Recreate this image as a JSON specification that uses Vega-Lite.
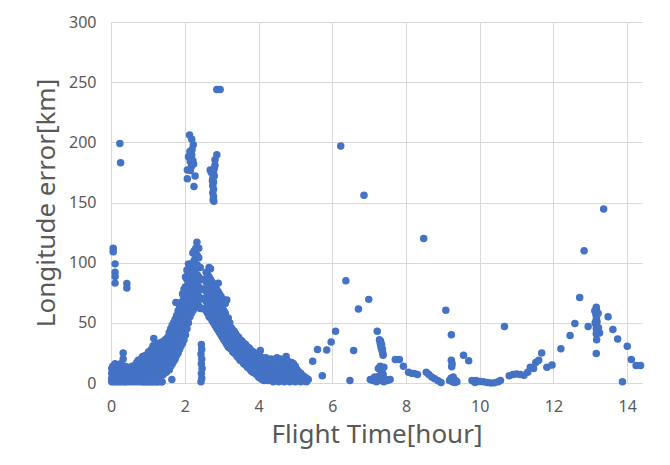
{
"$schema":"https://vega.github.io/schema/vega-lite/v6.json",
"width":531,"height":361,
"autosize":{"type":"none"},
"padding":{"left":111,"top":22,"right":28,"bottom":82},
"background":"white",
"config":{"view":{"stroke":null},"font":"Noto Sans"},
"data":{"values":[
{"t":0.02,"e":1},{"t":0.02,"e":4},{"t":0.02,"e":8},{"t":0.02,"e":12},
{"t":0.05,"e":2},{"t":0.05,"e":6},{"t":0.05,"e":10},{"t":0.05,"e":14},
{"t":0.08,"e":1},{"t":0.08,"e":5},{"t":0.08,"e":9},{"t":0.08,"e":13},
{"t":0.11,"e":3},{"t":0.11,"e":7},{"t":0.11,"e":11},{"t":0.11,"e":16},
{"t":0.14,"e":1},{"t":0.14,"e":5},{"t":0.14,"e":9},
{"t":0.17,"e":2},{"t":0.17,"e":6},{"t":0.17,"e":12},
{"t":0.2,"e":1},{"t":0.2,"e":4},{"t":0.2,"e":8},{"t":0.2,"e":14},
{"t":0.23,"e":3},{"t":0.23,"e":7},{"t":0.23,"e":11},
{"t":0.26,"e":1},{"t":0.26,"e":5},{"t":0.26,"e":9},{"t":0.26,"e":16},
{"t":0.29,"e":2},{"t":0.29,"e":6},{"t":0.29,"e":10},{"t":0.29,"e":13},
{"t":0.32,"e":1},{"t":0.32,"e":4},{"t":0.32,"e":8},{"t":0.33,"e":20},{"t":0.33,"e":25},
{"t":0.35,"e":2},{"t":0.35,"e":6},{"t":0.35,"e":11},
{"t":0.38,"e":1},{"t":0.38,"e":5},{"t":0.38,"e":9},{"t":0.38,"e":14},
{"t":0.42,"e":1},{"t":0.42,"e":4},{"t":0.42,"e":8},{"t":0.42,"e":12},
{"t":0.46,"e":2},{"t":0.46,"e":6},{"t":0.46,"e":10},
{"t":0.5,"e":1},{"t":0.5,"e":4},{"t":0.5,"e":9},{"t":0.5,"e":13},
{"t":0.54,"e":2},{"t":0.54,"e":7},{"t":0.54,"e":11},
{"t":0.58,"e":1},{"t":0.58,"e":5},{"t":0.58,"e":9},{"t":0.58,"e":14},
{"t":0.62,"e":3},{"t":0.62,"e":7},{"t":0.62,"e":12},
{"t":0.66,"e":1},{"t":0.66,"e":5},{"t":0.66,"e":10},{"t":0.66,"e":15},
{"t":0.7,"e":2},{"t":0.7,"e":6},{"t":0.7,"e":11},{"t":0.7,"e":17},
{"t":0.74,"e":1},{"t":0.74,"e":4},{"t":0.74,"e":9},{"t":0.74,"e":14},{"t":0.74,"e":19},
{"t":0.78,"e":3},{"t":0.78,"e":7},{"t":0.78,"e":12},{"t":0.78,"e":17},
{"t":0.82,"e":1},{"t":0.82,"e":5},{"t":0.82,"e":10},{"t":0.82,"e":15},{"t":0.82,"e":20},
{"t":0.86,"e":2},{"t":0.86,"e":6},{"t":0.86,"e":11},{"t":0.86,"e":16},{"t":0.86,"e":22},
{"t":0.9,"e":1},{"t":0.9,"e":4},{"t":0.9,"e":9},{"t":0.9,"e":14},{"t":0.9,"e":19},
{"t":0.94,"e":3},{"t":0.94,"e":8},{"t":0.94,"e":13},{"t":0.94,"e":18},{"t":0.94,"e":23},
{"t":0.98,"e":1},{"t":0.98,"e":6},{"t":0.98,"e":11},{"t":0.98,"e":16},{"t":0.98,"e":21},
{"t":1.02,"e":2},{"t":1.02,"e":7},{"t":1.02,"e":12},{"t":1.02,"e":17},{"t":1.02,"e":22},{"t":1.02,"e":26},
{"t":1.06,"e":1},{"t":1.06,"e":5},{"t":1.06,"e":10},{"t":1.06,"e":15},{"t":1.06,"e":20},{"t":1.06,"e":25},
{"t":1.1,"e":2},{"t":1.1,"e":8},{"t":1.1,"e":13},{"t":1.1,"e":18},{"t":1.1,"e":23},{"t":1.1,"e":28},
{"t":1.14,"e":1},{"t":1.14,"e":6},{"t":1.14,"e":11},{"t":1.14,"e":16},{"t":1.14,"e":21},{"t":1.14,"e":26},{"t":1.14,"e":31},
{"t":1.18,"e":3},{"t":1.18,"e":9},{"t":1.18,"e":14},{"t":1.18,"e":19},{"t":1.18,"e":24},{"t":1.18,"e":29},{"t":1.16,"e":37},
{"t":1.22,"e":1},{"t":1.22,"e":7},{"t":1.22,"e":12},{"t":1.22,"e":17},{"t":1.22,"e":22},{"t":1.22,"e":27},{"t":1.22,"e":32},
{"t":1.26,"e":5},{"t":1.26,"e":10},{"t":1.26,"e":15},{"t":1.26,"e":20},{"t":1.26,"e":25},{"t":1.26,"e":30},
{"t":1.3,"e":1},{"t":1.3,"e":8},{"t":1.3,"e":13},{"t":1.3,"e":18},{"t":1.3,"e":23},{"t":1.3,"e":28},{"t":1.3,"e":33},
{"t":1.34,"e":6},{"t":1.34,"e":11},{"t":1.34,"e":16},{"t":1.34,"e":21},{"t":1.34,"e":26},{"t":1.34,"e":31},
{"t":1.38,"e":1},{"t":1.38,"e":9},{"t":1.38,"e":14},{"t":1.38,"e":19},{"t":1.38,"e":24},{"t":1.38,"e":29},{"t":1.38,"e":34},
{"t":1.42,"e":7},{"t":1.42,"e":12},{"t":1.42,"e":17},{"t":1.42,"e":22},{"t":1.42,"e":27},{"t":1.42,"e":32},
{"t":1.46,"e":10},{"t":1.46,"e":15},{"t":1.46,"e":20},{"t":1.46,"e":25},{"t":1.46,"e":30},{"t":1.47,"e":36},
{"t":1.5,"e":9},{"t":1.5,"e":14},{"t":1.5,"e":19},{"t":1.5,"e":24},{"t":1.5,"e":29},{"t":1.5,"e":34},
{"t":1.54,"e":12},{"t":1.54,"e":17},{"t":1.54,"e":22},{"t":1.54,"e":27},{"t":1.54,"e":32},{"t":1.54,"e":38},
{"t":1.58,"e":11},{"t":1.58,"e":16},{"t":1.58,"e":21},{"t":1.58,"e":26},{"t":1.58,"e":31},{"t":1.58,"e":36},{"t":1.58,"e":42},
{"t":1.62,"e":14},{"t":1.62,"e":19},{"t":1.62,"e":24},{"t":1.62,"e":29},{"t":1.62,"e":34},{"t":1.62,"e":39},{"t":1.62,"e":45},
{"t":1.65,"e":3},{"t":1.66,"e":16},{"t":1.66,"e":21},{"t":1.66,"e":26},{"t":1.66,"e":31},{"t":1.66,"e":36},{"t":1.66,"e":42},{"t":1.66,"e":48},
{"t":1.7,"e":18},{"t":1.7,"e":23},{"t":1.7,"e":28},{"t":1.7,"e":33},{"t":1.7,"e":38},{"t":1.7,"e":44},{"t":1.7,"e":50},
{"t":1.74,"e":20},{"t":1.74,"e":25},{"t":1.74,"e":30},{"t":1.74,"e":35},{"t":1.74,"e":41},{"t":1.74,"e":47},{"t":1.74,"e":53},{"t":1.76,"e":67},
{"t":1.78,"e":23},{"t":1.78,"e":28},{"t":1.78,"e":33},{"t":1.78,"e":38},{"t":1.78,"e":44},{"t":1.78,"e":50},{"t":1.78,"e":56},
{"t":1.82,"e":25},{"t":1.82,"e":30},{"t":1.82,"e":36},{"t":1.82,"e":42},{"t":1.82,"e":48},{"t":1.82,"e":54},{"t":1.82,"e":60},
{"t":1.86,"e":28},{"t":1.86,"e":34},{"t":1.86,"e":40},{"t":1.86,"e":46},{"t":1.86,"e":52},{"t":1.86,"e":58},{"t":1.86,"e":64},
{"t":1.9,"e":31},{"t":1.9,"e":37},{"t":1.9,"e":43},{"t":1.9,"e":49},{"t":1.9,"e":55},{"t":1.9,"e":61},{"t":1.9,"e":67},
{"t":1.94,"e":33},{"t":1.94,"e":40},{"t":1.94,"e":47},{"t":1.94,"e":54},{"t":1.94,"e":61},{"t":1.94,"e":68},{"t":1.94,"e":74},
{"t":1.98,"e":36},{"t":1.98,"e":43},{"t":1.98,"e":50},{"t":1.98,"e":57},{"t":1.98,"e":64},{"t":1.98,"e":71},{"t":1.98,"e":78},
{"t":2.02,"e":40},{"t":2.02,"e":48},{"t":2.02,"e":56},{"t":2.02,"e":64},{"t":2.02,"e":72},{"t":2.02,"e":80},{"t":2.02,"e":88},
{"t":2.06,"e":45},{"t":2.06,"e":53},{"t":2.06,"e":61},{"t":2.06,"e":70},{"t":2.06,"e":78},{"t":2.06,"e":86},{"t":2.06,"e":94},
{"t":2.1,"e":50},{"t":2.1,"e":58},{"t":2.1,"e":66},{"t":2.1,"e":75},{"t":2.1,"e":83},{"t":2.1,"e":91},{"t":2.1,"e":99},
{"t":2.14,"e":55},{"t":2.14,"e":63},{"t":2.14,"e":72},{"t":2.14,"e":80},{"t":2.14,"e":88},{"t":2.14,"e":96},
{"t":2.18,"e":58},{"t":2.18,"e":66},{"t":2.18,"e":74},{"t":2.18,"e":82},{"t":2.18,"e":90},{"t":2.18,"e":98},
{"t":2.22,"e":60},{"t":2.22,"e":68},{"t":2.22,"e":76},{"t":2.22,"e":84},{"t":2.22,"e":92},{"t":2.22,"e":100},{"t":2.22,"e":108},
{"t":2.26,"e":62},{"t":2.26,"e":70},{"t":2.26,"e":78},{"t":2.26,"e":86},{"t":2.26,"e":94},{"t":2.26,"e":102},{"t":2.26,"e":110},
{"t":2.3,"e":64},{"t":2.3,"e":72},{"t":2.3,"e":80},{"t":2.3,"e":88},{"t":2.3,"e":96},{"t":2.3,"e":104},{"t":2.3,"e":112},
{"t":2.34,"e":66},{"t":2.34,"e":74},{"t":2.34,"e":82},{"t":2.34,"e":90},{"t":2.34,"e":98},{"t":2.34,"e":106},{"t":2.33,"e":117},
{"t":2.38,"e":64},{"t":2.38,"e":72},{"t":2.38,"e":80},{"t":2.38,"e":88},{"t":2.38,"e":96},{"t":2.38,"e":104},{"t":2.38,"e":112},
{"t":2.42,"e":62},{"t":2.42,"e":70},{"t":2.42,"e":78},{"t":2.42,"e":86},{"t":2.42,"e":96},
{"t":2.46,"e":62},{"t":2.46,"e":70},{"t":2.46,"e":78},{"t":2.46,"e":86},
{"t":2.5,"e":62},{"t":2.5,"e":70},{"t":2.5,"e":78},{"t":2.5,"e":86},
{"t":2.54,"e":62},{"t":2.54,"e":70},{"t":2.54,"e":78},{"t":2.54,"e":86},
{"t":2.58,"e":60},{"t":2.58,"e":68},{"t":2.58,"e":76},{"t":2.58,"e":84},{"t":2.58,"e":92},
{"t":2.62,"e":58},{"t":2.62,"e":66},{"t":2.62,"e":74},{"t":2.62,"e":82},{"t":2.62,"e":90},
{"t":2.66,"e":55},{"t":2.66,"e":63},{"t":2.66,"e":71},{"t":2.66,"e":79},{"t":2.66,"e":88},{"t":2.66,"e":96},
{"t":2.7,"e":54},{"t":2.7,"e":62},{"t":2.7,"e":70},{"t":2.7,"e":78},{"t":2.7,"e":86},{"t":2.7,"e":95},
{"t":2.74,"e":52},{"t":2.74,"e":60},{"t":2.74,"e":68},{"t":2.74,"e":76},{"t":2.74,"e":84},
{"t":2.78,"e":50},{"t":2.78,"e":58},{"t":2.78,"e":66},{"t":2.78,"e":74},{"t":2.78,"e":82},
{"t":2.82,"e":48},{"t":2.82,"e":56},{"t":2.82,"e":64},{"t":2.82,"e":72},{"t":2.82,"e":80},
{"t":2.86,"e":46},{"t":2.86,"e":54},{"t":2.86,"e":62},{"t":2.86,"e":70},{"t":2.86,"e":78},
{"t":2.9,"e":44},{"t":2.9,"e":52},{"t":2.9,"e":60},{"t":2.9,"e":68},{"t":2.9,"e":76},{"t":2.91,"e":83},
{"t":2.94,"e":42},{"t":2.94,"e":50},{"t":2.94,"e":58},{"t":2.94,"e":66},{"t":2.94,"e":74},
{"t":2.98,"e":40},{"t":2.98,"e":48},{"t":2.98,"e":56},{"t":2.98,"e":64},{"t":2.98,"e":72},
{"t":3.02,"e":38},{"t":3.02,"e":46},{"t":3.02,"e":54},{"t":3.02,"e":62},{"t":3.02,"e":70},
{"t":3.06,"e":36},{"t":3.06,"e":44},{"t":3.06,"e":52},{"t":3.06,"e":60},{"t":3.06,"e":68},
{"t":3.1,"e":34},{"t":3.1,"e":42},{"t":3.1,"e":50},{"t":3.1,"e":58},{"t":3.1,"e":66},
{"t":3.14,"e":32},{"t":3.14,"e":40},{"t":3.14,"e":48},{"t":3.14,"e":53},{"t":3.14,"e":69},
{"t":3.18,"e":30},{"t":3.18,"e":38},{"t":3.18,"e":46},{"t":3.18,"e":54},
{"t":3.22,"e":29},{"t":3.22,"e":36},{"t":3.22,"e":43},{"t":3.22,"e":50},
{"t":3.26,"e":28},{"t":3.26,"e":34},{"t":3.26,"e":40},{"t":3.26,"e":46},
{"t":3.3,"e":26},{"t":3.3,"e":32},{"t":3.3,"e":38},{"t":3.3,"e":44},
{"t":3.34,"e":25},{"t":3.34,"e":31},{"t":3.34,"e":37},{"t":3.34,"e":43},
{"t":3.38,"e":24},{"t":3.38,"e":30},{"t":3.38,"e":36},{"t":3.38,"e":41},
{"t":3.42,"e":22},{"t":3.42,"e":28},{"t":3.42,"e":34},{"t":3.42,"e":39},
{"t":3.46,"e":21},{"t":3.46,"e":27},{"t":3.46,"e":33},{"t":3.46,"e":38},
{"t":3.5,"e":19},{"t":3.5,"e":25},{"t":3.5,"e":31},{"t":3.5,"e":36},
{"t":3.55,"e":18},{"t":3.55,"e":24},{"t":3.55,"e":30},{"t":3.55,"e":35},
{"t":3.6,"e":16},{"t":3.6,"e":22},{"t":3.6,"e":28},{"t":3.6,"e":33},
{"t":3.65,"e":15},{"t":3.65,"e":21},{"t":3.65,"e":27},{"t":3.65,"e":32},
{"t":3.7,"e":13},{"t":3.7,"e":19},{"t":3.7,"e":25},{"t":3.7,"e":30},
{"t":3.75,"e":12},{"t":3.75,"e":18},{"t":3.75,"e":24},{"t":3.75,"e":29},
{"t":3.8,"e":10},{"t":3.8,"e":16},{"t":3.8,"e":22},{"t":3.8,"e":27},
{"t":3.85,"e":9},{"t":3.85,"e":15},{"t":3.85,"e":21},{"t":3.85,"e":26},
{"t":3.9,"e":8},{"t":3.9,"e":14},{"t":3.9,"e":20},{"t":3.9,"e":25},
{"t":3.95,"e":7},{"t":3.95,"e":13},{"t":3.95,"e":19},{"t":3.95,"e":24},
{"t":4.0,"e":5},{"t":4.0,"e":11},{"t":4.0,"e":17},{"t":4.0,"e":23},
{"t":4.05,"e":4},{"t":4.05,"e":10},{"t":4.05,"e":16},{"t":4.05,"e":22},{"t":4.05,"e":27},
{"t":4.1,"e":3},{"t":4.1,"e":9},{"t":4.1,"e":15},{"t":4.1,"e":21},
{"t":4.15,"e":2},{"t":4.15,"e":8},{"t":4.15,"e":14},{"t":4.15,"e":20},
{"t":4.2,"e":3},{"t":4.2,"e":9},{"t":4.2,"e":15},{"t":4.2,"e":21},
{"t":4.25,"e":2},{"t":4.25,"e":8},{"t":4.25,"e":14},{"t":4.25,"e":20},
{"t":4.3,"e":3},{"t":4.3,"e":9},{"t":4.3,"e":15},{"t":4.3,"e":19},
{"t":4.35,"e":2},{"t":4.35,"e":8},{"t":4.35,"e":14},{"t":4.35,"e":20},
{"t":4.4,"e":1},{"t":4.4,"e":7},{"t":4.4,"e":13},{"t":4.4,"e":18},
{"t":4.45,"e":3},{"t":4.45,"e":9},{"t":4.45,"e":15},{"t":4.45,"e":19},
{"t":4.5,"e":2},{"t":4.5,"e":8},{"t":4.5,"e":14},{"t":4.5,"e":21},
{"t":4.55,"e":1},{"t":4.55,"e":7},{"t":4.55,"e":13},{"t":4.55,"e":18},
{"t":4.6,"e":3},{"t":4.6,"e":9},{"t":4.6,"e":15},{"t":4.6,"e":20},
{"t":4.65,"e":2},{"t":4.65,"e":8},{"t":4.65,"e":14},{"t":4.65,"e":19},
{"t":4.7,"e":1},{"t":4.7,"e":6},{"t":4.7,"e":12},{"t":4.7,"e":17},
{"t":4.75,"e":3},{"t":4.75,"e":9},{"t":4.75,"e":15},{"t":4.75,"e":22},
{"t":4.8,"e":2},{"t":4.8,"e":8},{"t":4.8,"e":13},{"t":4.8,"e":18},
{"t":4.85,"e":1},{"t":4.85,"e":6},{"t":4.85,"e":11},{"t":4.85,"e":16},
{"t":4.9,"e":3},{"t":4.9,"e":8},{"t":4.9,"e":13},{"t":4.9,"e":17},
{"t":4.95,"e":2},{"t":4.95,"e":7},{"t":4.95,"e":12},{"t":4.95,"e":16},
{"t":5.0,"e":1},{"t":5.0,"e":5},{"t":5.0,"e":10},{"t":5.0,"e":14},
{"t":5.05,"e":3},{"t":5.05,"e":7},{"t":5.05,"e":11},
{"t":5.1,"e":2},{"t":5.1,"e":6},{"t":5.1,"e":9},
{"t":5.15,"e":1},{"t":5.15,"e":4},{"t":5.15,"e":8},
{"t":5.2,"e":3},{"t":5.2,"e":6},{"t":5.25,"e":2},{"t":5.25,"e":5},{"t":5.3,"e":1},{"t":5.3,"e":4},{"t":5.35,"e":3},
{"t":2.44,"e":1},{"t":2.46,"e":4},{"t":2.45,"e":8},{"t":2.47,"e":12},{"t":2.45,"e":16},{"t":2.46,"e":20},{"t":2.44,"e":24},{"t":2.46,"e":28},{"t":2.45,"e":32},
{"t":0.06,"e":112},{"t":0.06,"e":109},{"t":0.11,"e":99},{"t":0.11,"e":92},{"t":0.11,"e":88.6},{"t":0.11,"e":83},{"t":0.43,"e":82.6},{"t":0.43,"e":79},{"t":0.24,"e":199},{"t":0.26,"e":183},
{"t":0.87,"e":1},{"t":0.95,"e":1},{"t":1.05,"e":1},{"t":1.15,"e":1},{"t":1.25,"e":1},{"t":1.38,"e":1},
{"t":2.13,"e":206},{"t":2.19,"e":202.6},{"t":2.23,"e":198},{"t":2.14,"e":192.4},{"t":2.19,"e":189.6},{"t":2.1,"e":188},{"t":2.22,"e":185},{"t":2.15,"e":184},{"t":2.24,"e":182},{"t":2.07,"e":177},{"t":2.15,"e":176.5},{"t":2.28,"e":172},{"t":2.07,"e":169.7},{"t":2.25,"e":163.3},{"t":2.2,"e":194},{"t":2.18,"e":180},
{"t":2.87,"e":244},{"t":2.96,"e":244},
{"t":2.87,"e":189.6},{"t":2.82,"e":185.5},{"t":2.82,"e":181},{"t":2.69,"e":177},{"t":2.78,"e":174.4},{"t":2.76,"e":170},{"t":2.78,"e":167},{"t":2.76,"e":164},{"t":2.78,"e":161},{"t":2.76,"e":158},{"t":2.78,"e":155},{"t":2.77,"e":152},{"t":2.79,"e":151},{"t":2.75,"e":168},{"t":2.8,"e":172},{"t":2.72,"e":175},{"t":2.8,"e":178},
{"t":5.47,"e":18},{"t":5.6,"e":27.8},{"t":5.73,"e":6},{"t":5.85,"e":27.5},{"t":5.97,"e":34},{"t":6.09,"e":43},{"t":6.23,"e":197},{"t":6.37,"e":85},{"t":6.48,"e":2},{"t":6.58,"e":27},{"t":6.71,"e":61.5},{"t":6.86,"e":156},{"t":6.99,"e":69.5},{"t":7.22,"e":43},
{"t":7.28,"e":36},{"t":7.3,"e":33},{"t":7.32,"e":31},{"t":7.33,"e":29},{"t":7.35,"e":27},{"t":7.37,"e":25},{"t":7.38,"e":23},{"t":7.31,"e":35},{"t":7.34,"e":32},{"t":7.36,"e":28},
{"t":7.25,"e":12},{"t":7.3,"e":14},{"t":7.4,"e":13},{"t":7.35,"e":9},
{"t":7.03,"e":3},{"t":7.1,"e":2},{"t":7.15,"e":5},{"t":7.2,"e":1},{"t":7.25,"e":3},{"t":7.3,"e":2},{"t":7.35,"e":4},{"t":7.4,"e":1},{"t":7.45,"e":3},{"t":7.5,"e":2},{"t":7.57,"e":3},{"t":7.28,"e":6},{"t":7.38,"e":7},{"t":7.15,"e":3.5},
{"t":7.71,"e":19.5},{"t":7.82,"e":19.5},{"t":7.93,"e":14},{"t":8.07,"e":9},{"t":8.15,"e":8},{"t":8.22,"e":8},{"t":8.31,"e":7},{"t":8.48,"e":120},{"t":8.55,"e":9},{"t":8.62,"e":7},{"t":8.7,"e":5},{"t":8.78,"e":3.5},{"t":8.87,"e":1.8},{"t":8.95,"e":0.5},
{"t":9.08,"e":60.5},{"t":9.23,"e":40},{"t":9.23,"e":19},{"t":9.25,"e":16},{"t":9.24,"e":13.5},
{"t":9.18,"e":2},{"t":9.22,"e":4},{"t":9.26,"e":1},{"t":9.3,"e":3},{"t":9.34,"e":2},{"t":9.38,"e":1},{"t":9.28,"e":5},{"t":9.32,"e":0.5},
{"t":9.56,"e":23},{"t":9.7,"e":18.5},{"t":9.79,"e":2},{"t":9.9,"e":2},{"t":9.87,"e":0.5},{"t":10.0,"e":1.2},{"t":10.1,"e":1},{"t":10.2,"e":0.5},{"t":10.3,"e":0},{"t":10.4,"e":0.3},{"t":10.5,"e":1},{"t":10.56,"e":2},{"t":10.67,"e":47},
{"t":10.8,"e":6},{"t":10.9,"e":7},{"t":11.0,"e":7.5},{"t":11.1,"e":7},{"t":11.2,"e":6.5},{"t":11.3,"e":9},{"t":11.37,"e":13},{"t":11.46,"e":12},{"t":11.52,"e":17},{"t":11.6,"e":19},{"t":11.68,"e":25},
{"t":11.82,"e":13},{"t":11.96,"e":15},{"t":12.2,"e":28.5},{"t":12.45,"e":39.5},{"t":12.58,"e":49.5},{"t":12.71,"e":71},{"t":12.83,"e":110},{"t":12.94,"e":47},
{"t":13.16,"e":63},{"t":13.16,"e":61},{"t":13.17,"e":59},{"t":13.15,"e":57},{"t":13.17,"e":55},{"t":13.16,"e":53},{"t":13.18,"e":51},{"t":13.15,"e":49},{"t":13.17,"e":47},{"t":13.16,"e":45},{"t":13.18,"e":43},{"t":13.16,"e":41},
{"t":13.12,"e":60},{"t":13.21,"e":58},{"t":13.13,"e":50},{"t":13.22,"e":46},{"t":13.17,"e":36},{"t":13.16,"e":24.5},{"t":13.25,"e":41.5},
{"t":13.36,"e":144.6},{"t":13.48,"e":55},{"t":13.61,"e":44.5},{"t":13.74,"e":36.5},{"t":13.87,"e":1},{"t":14.0,"e":30.5},{"t":14.11,"e":19.5},{"t":14.24,"e":14.5},{"t":14.36,"e":14.5}
]},
"mark":{"type":"circle","color":"#4472C4","opacity":1,"size":56},
"encoding":{
"x":{"field":"t","type":"quantitative","scale":{"domain":[0,14.4],"nice":false,"zero":false},
"axis":{"title":"Flight Time[hour]","values":[0,2,4,6,8,10,12,14],"grid":true,"gridColor":"#d9d9d9","gridWidth":1,"domain":true,"domainColor":"#d9d9d9","domainWidth":1,"ticks":false,"labelPadding":15,"labelFontSize":16,"labelColor":"#595959","labelFont":"Noto Sans","titleFont":"Noto Sans","titleFontSize":26,"titleFontWeight":"normal","titleColor":"#595959","titlePadding":7,"labelFlush":false}},
"y":{"field":"e","type":"quantitative","scale":{"domain":[0,300],"nice":false},
"axis":{"title":"Longitude error[km]","values":[0,50,100,150,200,250,300],"grid":true,"gridColor":"#d9d9d9","gridWidth":1,"domain":false,"ticks":false,"labelPadding":15,"labelFontSize":16,"labelColor":"#595959","labelFont":"Noto Sans","titleFont":"Noto Sans","titleFontSize":26,"titleFontWeight":"normal","titleColor":"#595959","titlePadding":9,"labelFlush":false}}
}
}
